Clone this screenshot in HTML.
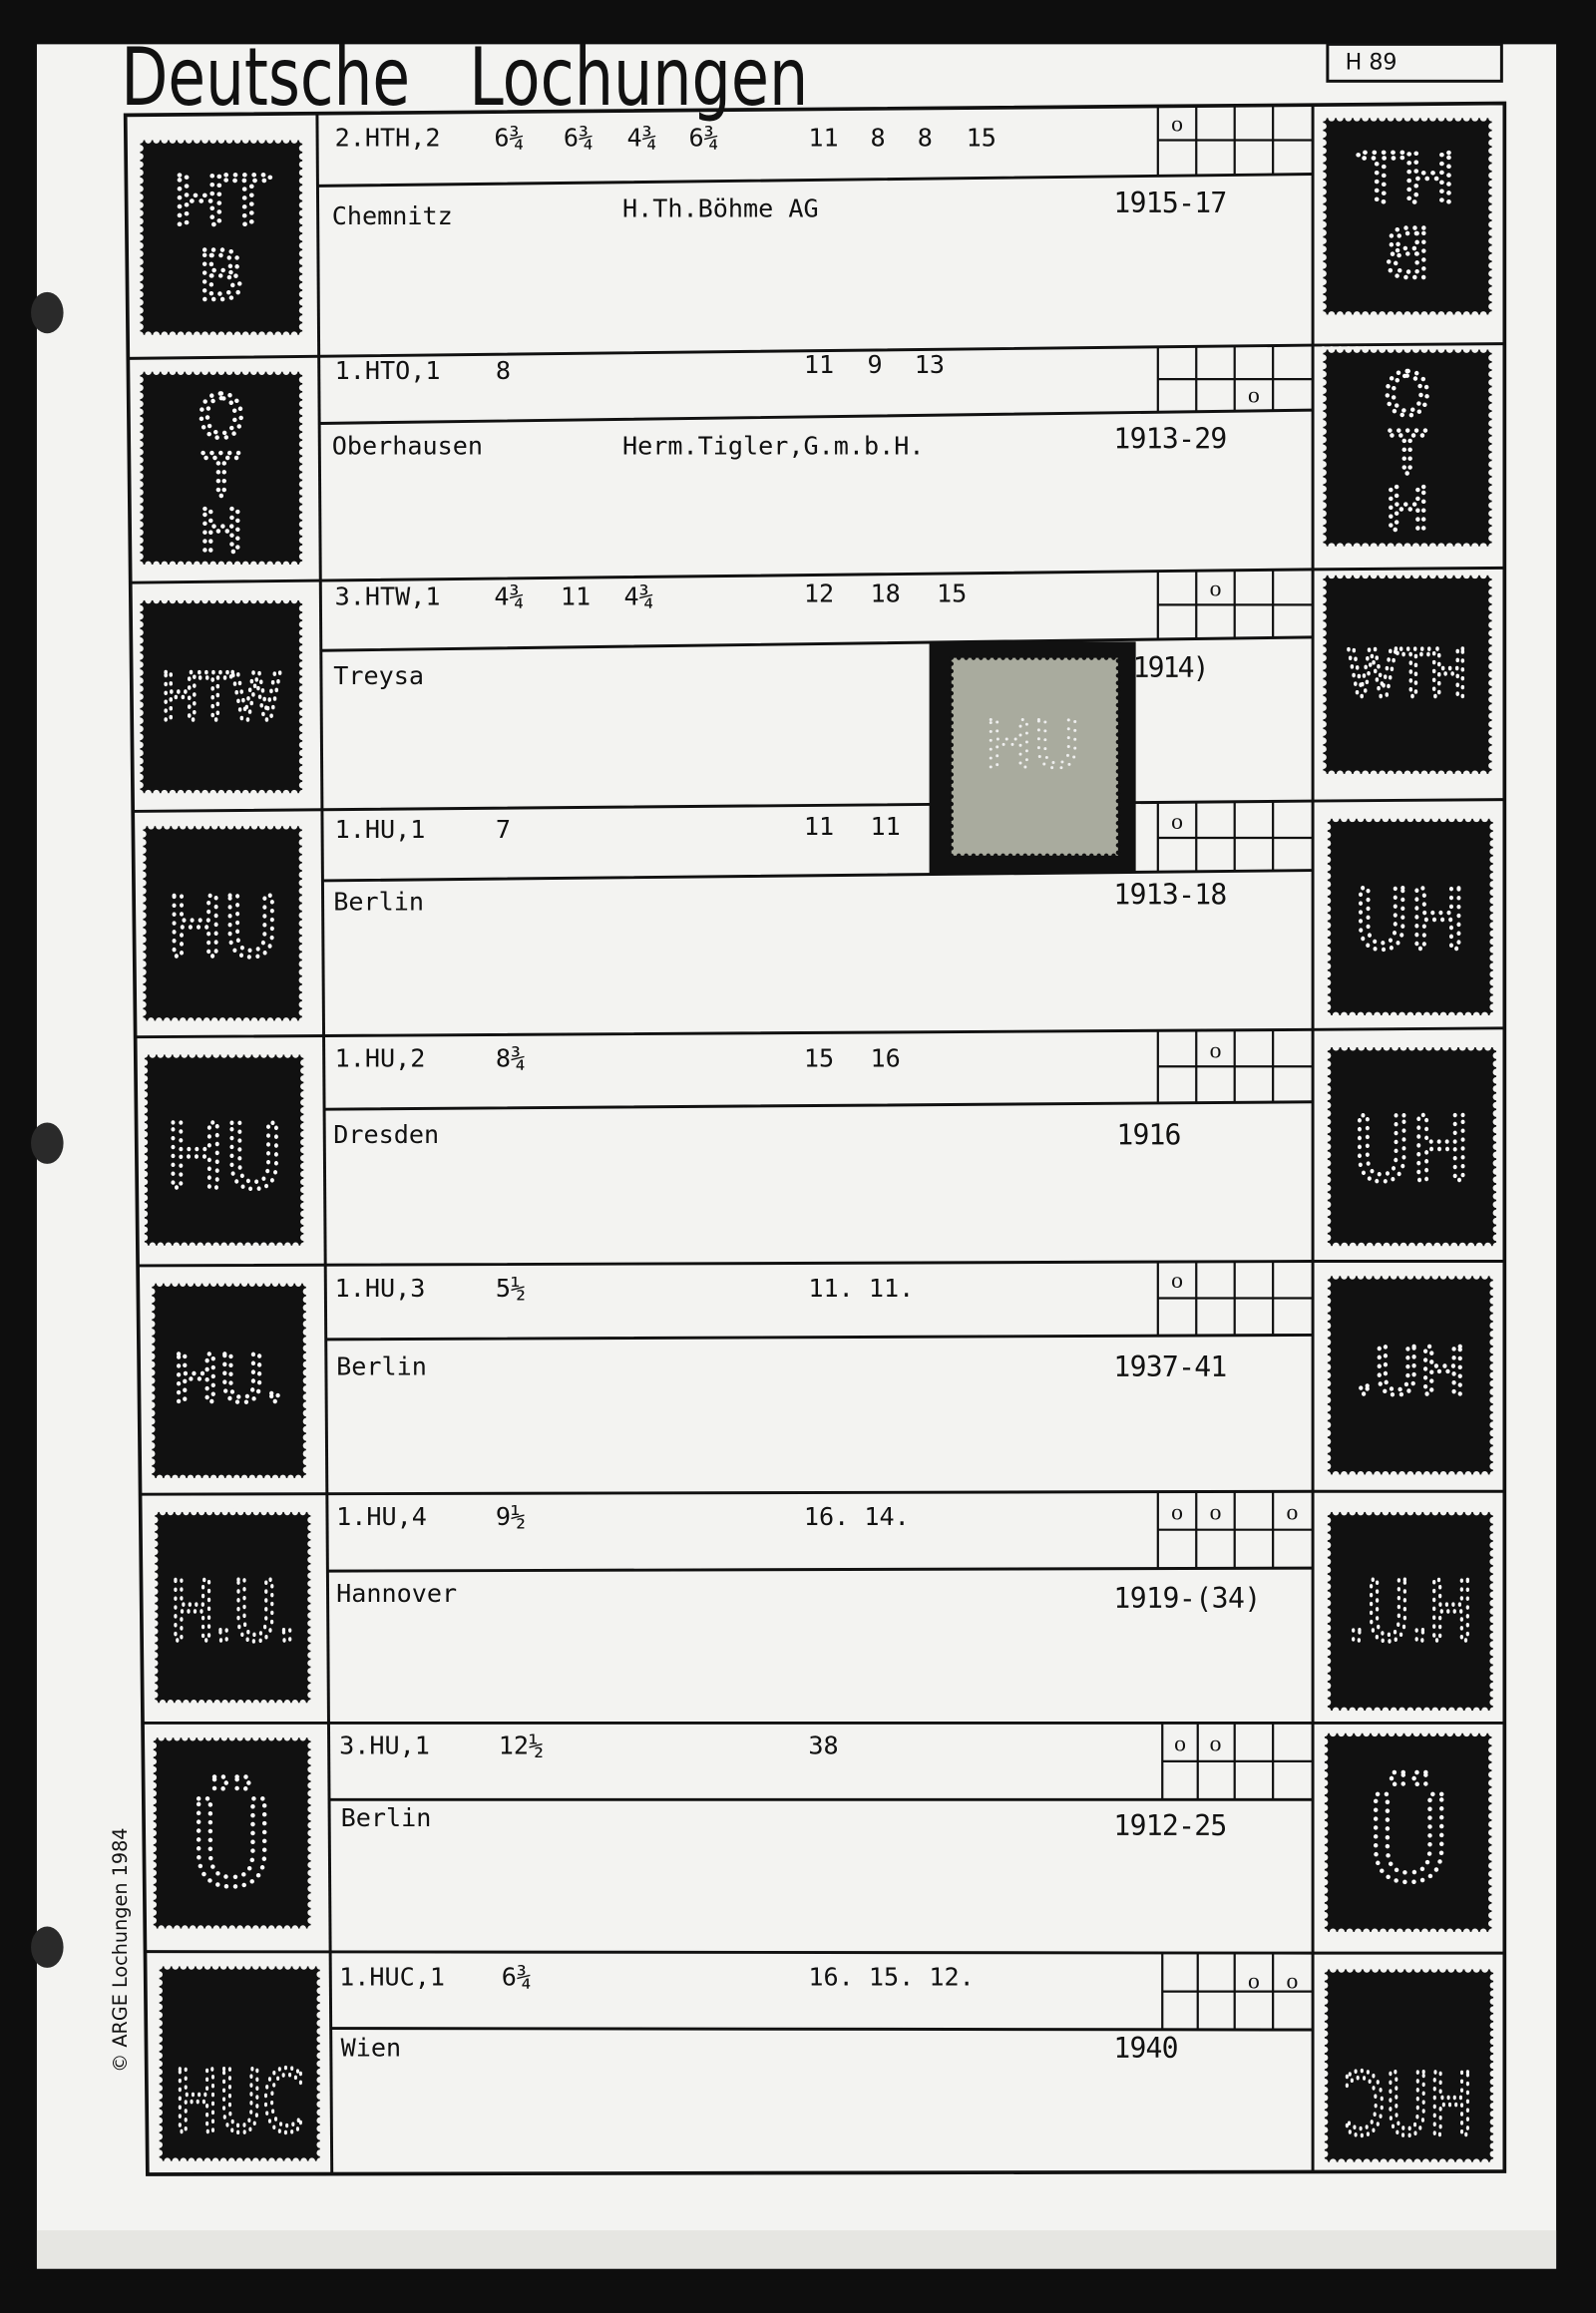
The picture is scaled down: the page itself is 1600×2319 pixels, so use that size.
<!DOCTYPE html>
<html><head><meta charset="utf-8">
<style>html,body{margin:0;padding:0;background:#0e0e0e;}svg{display:block;}</style>
</head><body>
<svg width="1600" height="2319" viewBox="0 0 1082 1568" preserveAspectRatio="none" xmlns="http://www.w3.org/2000/svg">
<defs>
<g id="st">
<rect x="0" y="0" width="110" height="132" fill="#111"/>
<rect x="0" y="0" width="110" height="132" fill="none" stroke="#f3f3f1" stroke-width="4.5" stroke-dasharray="0 5.5" stroke-linecap="round"/>
</g>
</defs>
<rect x="0" y="0" width="1082" height="1568" fill="#0e0e0e"/>
<rect x="25" y="30" width="1030" height="1508" fill="#f3f3f1"/>
<rect x="25" y="1512" width="1030" height="26" fill="#e6e6e2"/>
<ellipse cx="32" cy="212" rx="11" ry="14" fill="#2a2a2a"/>
<ellipse cx="32" cy="775" rx="11" ry="14" fill="#2a2a2a"/>
<ellipse cx="32" cy="1320" rx="11" ry="14" fill="#2a2a2a"/>

<g font-family="DejaVu Sans, sans-serif" font-size="54" fill="#111">
<text x="82" y="71" textLength="196" lengthAdjust="spacingAndGlyphs">Deutsche</text>
<text x="318" y="71" textLength="230" lengthAdjust="spacingAndGlyphs">Lochungen</text>
</g>
<rect x="900" y="30" width="118" height="25" fill="none" stroke="#111" stroke-width="2"/>
<text x="912" y="47" font-family="DejaVu Sans, sans-serif" font-size="15" fill="#111">H 89</text>

<text transform="translate(86,1405) rotate(-90)" font-family="DejaVu Sans, sans-serif" font-size="13" fill="#111">© ARGE Lochungen 1984</text>

<g stroke="#111" fill="none" stroke-width="2">
<path stroke-width="2.5" d="M85 78L1020 70L1020 1472L100 1474Z"/>
<path d="M215 78L225 1474"/>
<path d="M890 71L890 1473"/>
<path d="M86.8 243L890 234L1020 233M88.4 395L890 386L1020 385M90.1 550L890 543L1020 542M91.7 703L890 698L1020 697M93.4 858L890 855L1020 855M95 1013L890 1011L1020 1011M96.7 1168L890 1168L1020 1168M98.4 1323L890 1324L1020 1324"/>
<path d="M216 126L890 118M217 287L890 278M218 441L890 432M219 597L890 590M220 752L890 747M221 908L890 905M222 1065L890 1063M223 1220L890 1220M224 1375L890 1376"/>
<g stroke-width="1.5">
<path d="M785 71V119M811 71V119M837 71V119M863 71V119M785 95H890"/>
<path d="M785 235V279M811 235V279M837 235V279M863 235V279M785 257H890"/>
<path d="M785 387V433M811 387V433M837 387V433M863 387V433M785 410H890"/>
<path d="M785 544V591M811 544V591M837 544V591M863 544V591M785 568H890"/>
<path d="M785 699V748M811 699V748M837 699V748M863 699V748M785 723H890"/>
<path d="M785 855V905M811 855V905M837 855V905M863 855V905M785 880H890"/>
<path d="M785 1011V1063M811 1011V1063M837 1011V1063M863 1011V1063M785 1037H890"/>
<path d="M788 1168V1220M812 1168V1220M837 1168V1220M863 1168V1220M788 1194H890"/>
<path d="M788 1324V1376M812 1324V1376M837 1324V1376M863 1324V1376M788 1350H890"/>
</g>
</g>

<!-- stamps left -->
<use href="#st" transform="translate(95,95)"/>
<use href="#st" transform="translate(95,252) scale(1,0.99)"/>
<use href="#st" transform="translate(95,407) scale(1,0.99)"/>
<use href="#st" transform="translate(97,560) scale(0.98,1)"/>
<use href="#st" transform="translate(98,715) scale(0.98,0.98)"/>
<use href="#st" transform="translate(103,870) scale(0.95,1)"/>
<use href="#st" transform="translate(105,1025) scale(0.96,0.98)"/>
<use href="#st" transform="translate(104,1178) scale(0.97,0.98)"/>
<use href="#st" transform="translate(108,1333) scale(0.99,1)"/>
<!-- stamps right -->
<use href="#st" transform="translate(897,80) scale(1.04,1.01)"/>
<use href="#st" transform="translate(897,237) scale(1.04,1.01)"/>
<use href="#st" transform="translate(897,390) scale(1.04,1.02)"/>
<use href="#st" transform="translate(900,555) scale(1.02,1.01)"/>
<use href="#st" transform="translate(900,710) scale(1.04,1.02)"/>
<use href="#st" transform="translate(900,865) scale(1.02,1.02)"/>
<use href="#st" transform="translate(900,1025) scale(1.02,1.02)"/>
<use href="#st" transform="translate(898,1175) scale(1.03,1.02)"/>
<use href="#st" transform="translate(898,1335) scale(1.04,0.99)"/>

<g font-family="DejaVu Sans, sans-serif" fill="none" stroke="#fff" stroke-width="3" stroke-dasharray="0 6" stroke-linecap="round" text-anchor="middle">
<text x="150" y="152" font-size="46" textLength="66" lengthAdjust="spacingAndGlyphs">HT</text>
<text x="150" y="203" font-size="46">B</text>
<text x="150" y="296" font-size="40">O</text>
<text x="150" y="336" font-size="40">T</text>
<text x="150" y="374" font-size="40">H</text>
<text x="150" y="488" font-size="44" textLength="82" lengthAdjust="spacingAndGlyphs">HTW</text>
<text x="151" y="648" font-size="56" textLength="76" lengthAdjust="spacingAndGlyphs">HU</text>
<text x="152" y="805" font-size="60" textLength="80" lengthAdjust="spacingAndGlyphs">HU</text>
<text x="155" y="950" font-size="44" textLength="76" lengthAdjust="spacingAndGlyphs">HU.</text>
<text x="158" y="1112" font-size="56" textLength="86" lengthAdjust="spacingAndGlyphs">H.U.</text>
<text x="157" y="1278" font-size="80">Ü</text>
<text x="162" y="1445" font-size="58" textLength="88" lengthAdjust="spacingAndGlyphs">HUC</text>
<g transform="translate(2010,0) scale(-1,1)">
<text x="1056" y="137" font-size="46" textLength="66" lengthAdjust="spacingAndGlyphs">HT</text>
<text x="1056" y="188" font-size="46">B</text>
<text x="1056" y="281" font-size="40">O</text>
<text x="1056" y="321" font-size="40">T</text>
<text x="1056" y="359" font-size="40">H</text>
<text x="1056" y="472" font-size="44" textLength="82" lengthAdjust="spacingAndGlyphs">HTW</text>
<text x="1054" y="643" font-size="56" textLength="76" lengthAdjust="spacingAndGlyphs">HU</text>
<text x="1053" y="800" font-size="60" textLength="80" lengthAdjust="spacingAndGlyphs">HU</text>
<text x="1054" y="945" font-size="44" textLength="76" lengthAdjust="spacingAndGlyphs">HU.</text>
<text x="1054" y="1112" font-size="56" textLength="86" lengthAdjust="spacingAndGlyphs">H.U.</text>
<text x="1055" y="1275" font-size="80">Ü</text>
<text x="1055" y="1447" font-size="58" textLength="88" lengthAdjust="spacingAndGlyphs">HUC</text>
</g>
</g>

<!-- photo stamp -->
<rect x="630" y="435" width="140" height="157" fill="#111"/>
<rect x="645" y="446" width="113" height="134" fill="#a9ab9e"/>
<rect x="645" y="446" width="113" height="134" fill="none" stroke="#111" stroke-width="3" stroke-dasharray="0 5" stroke-linecap="round"/>
<text x="700" y="520" text-anchor="middle" font-family="DejaVu Sans, sans-serif" font-size="44" fill="none" stroke="#eee" stroke-width="2" stroke-dasharray="0 6" stroke-linecap="round">HU</text>

<g font-family="DejaVu Sans Mono, monospace" font-size="17" fill="#111">
<text x="227" y="99">2.HTH,2</text>
<text x="335" y="99">6¾</text><text x="382" y="99">6¾</text><text x="425" y="99">4¾</text><text x="467" y="99">6¾</text>
<text x="548" y="99">11</text><text x="590" y="99">8</text><text x="622" y="99">8</text><text x="655" y="99">15</text>
<text x="225" y="152">Chemnitz</text><text x="422" y="147">H.Th.Böhme AG</text>

<text x="227" y="257">1.HTO,1</text><text x="336" y="257">8</text>
<text x="545" y="253">11</text><text x="588" y="253">9</text><text x="620" y="253">13</text>
<text x="225" y="308">Oberhausen</text><text x="422" y="308">Herm.Tigler,G.m.b.H.</text>

<text x="227" y="410">3.HTW,1</text><text x="335" y="410">4¾</text><text x="380" y="410">11</text><text x="423" y="410">4¾</text>
<text x="545" y="408">12</text><text x="590" y="408">18</text><text x="635" y="408">15</text>
<text x="226" y="464">Treysa</text>

<text x="227" y="568">1.HU,1</text><text x="336" y="568">7</text>
<text x="545" y="566">11</text><text x="590" y="566">11</text>
<text x="226" y="617">Berlin</text>

<text x="227" y="723">1.HU,2</text><text x="336" y="723">8¾</text>
<text x="545" y="723">15</text><text x="590" y="723">16</text>
<text x="226" y="775">Dresden</text>

<text x="227" y="879">1.HU,3</text><text x="336" y="879">5½</text>
<text x="548" y="879">11. 11.</text>
<text x="228" y="932">Berlin</text>

<text x="228" y="1034">1.HU,4</text><text x="336" y="1034">9½</text>
<text x="545" y="1034">16. 14.</text>
<text x="228" y="1086">Hannover</text>

<text x="230" y="1189">3.HU,1</text><text x="338" y="1189">12½</text>
<text x="548" y="1189">38</text>
<text x="231" y="1238">Berlin</text>

<text x="230" y="1346">1.HUC,1</text><text x="340" y="1346">6¾</text>
<text x="548" y="1346">16. 15. 12.</text>
<text x="231" y="1394">Wien</text>
</g>

<g font-family="DejaVu Sans Mono, monospace" font-size="19" fill="#111" lengthAdjust="spacingAndGlyphs">
<text x="755" y="144" textLength="77">1915-17</text>
<text x="755" y="304" textLength="77">1913-29</text>
<text x="768" y="459" textLength="52">1914)</text>
<text x="755" y="613" textLength="77">1913-18</text>
<text x="757" y="776" textLength="44">1916</text>
<text x="755" y="933" textLength="77">1937-41</text>
<text x="755" y="1090" textLength="100">1919-(34)</text>
<text x="755" y="1244" textLength="77">1912-25</text>
<text x="755" y="1395" textLength="44">1940</text>
</g>

<g font-family="Liberation Serif, serif" font-size="16" fill="#111" text-anchor="middle">
<text x="798" y="89">o</text>
<text x="850" y="273">o</text>
<text x="824" y="404">o</text>
<text x="798" y="562">o</text>
<text x="824" y="717">o</text>
<text x="798" y="873">o</text>
<text x="798" y="1030">o</text><text x="824" y="1030">o</text><text x="876" y="1030">o</text>
<text x="800" y="1187">o</text><text x="824" y="1187">o</text>
<text x="850" y="1348">o</text><text x="876" y="1348">o</text>
</g>
</svg>
</body></html>
